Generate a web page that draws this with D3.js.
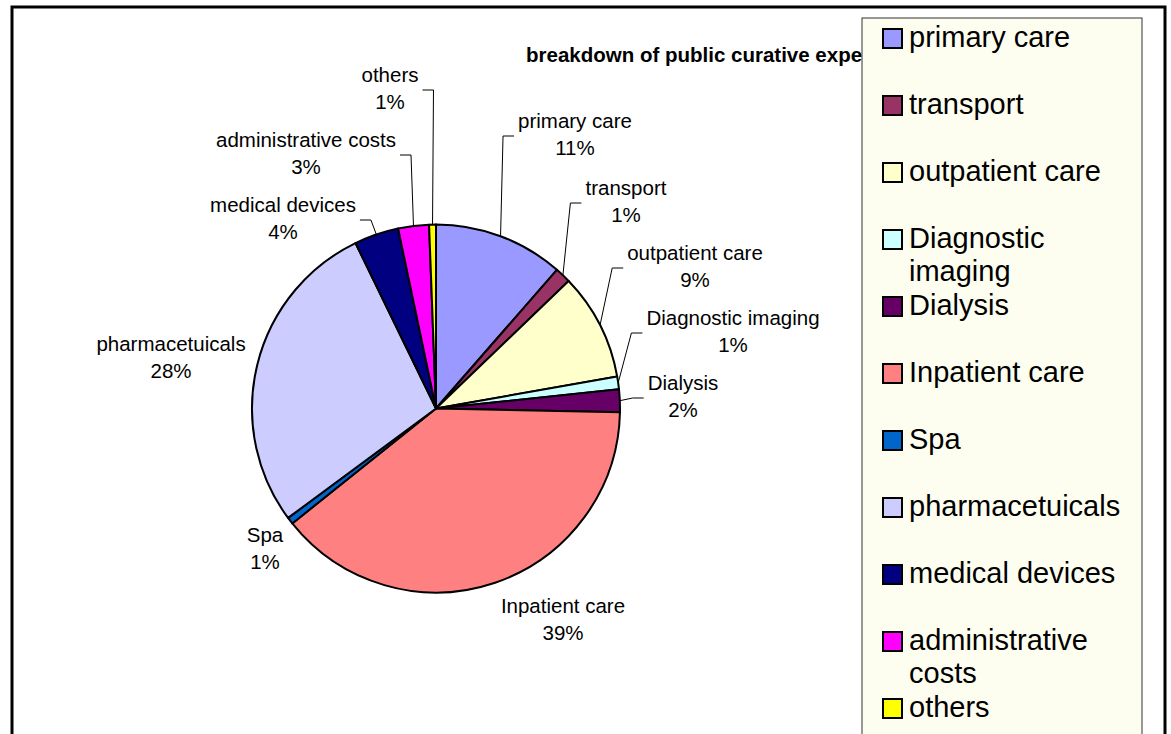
<!DOCTYPE html>
<html>
<head>
<meta charset="utf-8">
<script src="https://cdn.jsdelivr.net/npm/d3@7"></script>
<style>
  html, body { margin: 0; padding: 0; background: #ffffff; }
  svg { display: block; }
  text { font-family: "Liberation Sans", Arial, Helvetica, sans-serif; }
</style>
</head>
<body>
<svg id="chart" width="1171" height="734"></svg>
<script>
// Shares of public curative spending, clockwise from 12 o'clock
const categories = [
  "primary care", "transport", "outpatient care", "Diagnostic imaging",
  "Dialysis", "Inpatient care", "Spa", "pharmacetuicals",
  "medical devices", "administrative costs", "others"
];
const shares = [11.4, 1.4, 9.4, 1.1, 2.0, 38.9, 0.6, 27.9, 3.9, 2.7, 0.6];
const sliceColors = [
  "#9999FF", "#993366", "#FFFFCC", "#CCFFFF", "#660066", "#FF8080",
  "#0066CC", "#CCCCFF", "#000080", "#FF00FF", "#FFFF00"
];
const chartTitle = "breakdown of public curative expenditure";

// Hand-placed data label anchors (first-line baseline, relative to pie centre)
const labelOffsets = [
  [139, -280.5], [190, -213.5], [259, -148.5], [297, -83.5], [247, -18.5],
  [127, 204.5], [-171, 133.5], [-265, -57.5], [-153, -196.5], [-130, -261.5],
  [-46, -326.5]
];
const labelLeaders = [true, true, true, true, true, false, false, false, true, true, true];

const svg = d3.select("#chart");
const cx = 436, cy = 408.5, R = 184;
const labelSize = 20.5, lineGap = 27;

// chart frame
svg.append("rect")
  .attr("x", 12).attr("y", 7).attr("width", 1153).attr("height", 820)
  .attr("fill", "#ffffff").attr("stroke", "#000").attr("stroke-width", 3);

// title (partly covered by the legend box)
svg.append("text")
  .attr("x", 526).attr("y", 62)
  .attr("font-size", 20.5).attr("font-weight", "bold")
  .attr("fill", "#000")
  .text(chartTitle);

const data = categories.map((c, i) => ({ name: c, value: shares[i], color: sliceColors[i], i }));
const total = d3.sum(shares);
const pie = d3.pie().value(d => d.value).sort(null).startAngle(0).endAngle(2 * Math.PI);
const arcs = pie(data);
const arc = d3.arc().innerRadius(0).outerRadius(R);

const g = svg.append("g").attr("transform", `translate(${cx},${cy})`);

g.selectAll("path.slice")
  .data(arcs)
  .join("path")
  .attr("class", "slice")
  .attr("d", arc)
  .attr("fill", d => d.data.color)
  .attr("stroke", "#000")
  .attr("stroke-width", 2)
  .attr("stroke-linejoin", "round");

// data labels
const pct = v => Math.round(v / total * 100) + "%";
const labels = g.append("g");
arcs.forEach((a, i) => {
  const [ox, oy] = labelOffsets[i];
  const t = labels.append("text")
    .attr("text-anchor", "middle")
    .attr("font-size", labelSize)
    .attr("fill", "#000");
  t.append("tspan").attr("x", ox).attr("y", oy).text(a.data.name);
  t.append("tspan").attr("x", ox).attr("y", oy + lineGap).text(pct(a.data.value));

  if (labelLeaders[i]) {
    const w = t.node().getBBox().width;
    const mid = (a.startAngle + a.endAngle) / 2;
    const px = R * Math.sin(mid), py = -R * Math.cos(mid);
    const onRight = ox > 0;
    const edge = onRight ? ox - w / 2 - 4 : ox + w / 2 + 4;
    const elbowX = onRight ? edge - 11 : edge + 11;
    const elbowY = oy + 8;
    labels.append("path")
      .attr("d", d3.line()([[px, py], [elbowX, elbowY], [edge, elbowY]]))
      .attr("fill", "none")
      .attr("stroke", "#000")
      .attr("stroke-width", 1);
  }
});

// legend
const legend = svg.append("g");
legend.append("rect")
  .attr("x", 862).attr("y", 18).attr("width", 280).attr("height", 760)
  .attr("fill", "#FEFEF0").attr("stroke", "#333").attr("stroke-width", 1);

const legendSize = 29, legendLine = 33, legendStep = 67, legendMaxW = 226;
let ly = 47;
data.forEach(d => {
  // wrap the entry text to the legend width
  const words = d.name.split(" ");
  const probe = legend.append("text").attr("font-size", legendSize).attr("visibility", "hidden");
  const lines = [];
  let cur = "";
  words.forEach(wd => {
    const test = cur ? cur + " " + wd : wd;
    probe.text(test);
    if (probe.node().getComputedTextLength() > legendMaxW && cur) {
      lines.push(cur);
      cur = wd;
    } else {
      cur = test;
    }
  });
  lines.push(cur);
  probe.remove();

  legend.append("rect")
    .attr("x", 883).attr("y", ly - 18).attr("width", 19).attr("height", 19)
    .attr("fill", d.color).attr("stroke", "#000").attr("stroke-width", 2);

  const t = legend.append("text").attr("font-size", legendSize).attr("fill", "#000");
  lines.forEach((ln, k) => {
    t.append("tspan").attr("x", 909).attr("y", ly + k * legendLine).text(ln);
  });
  ly += Math.max(legendStep, lines.length * legendLine);
});
</script>
</body>
</html>
